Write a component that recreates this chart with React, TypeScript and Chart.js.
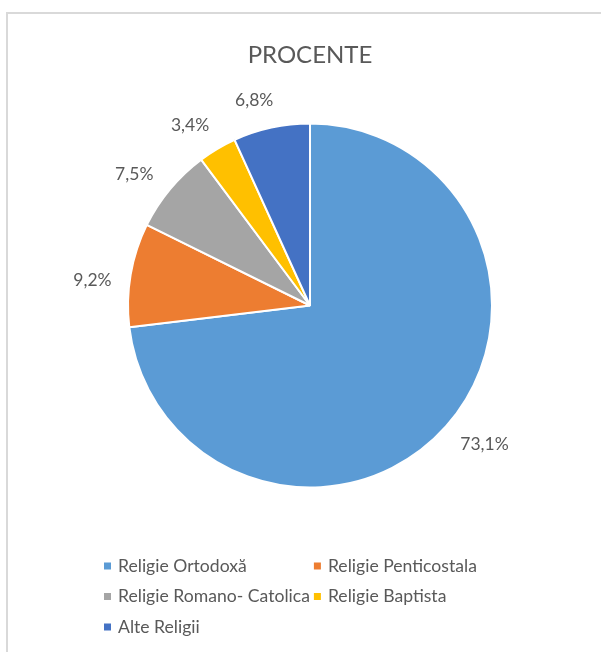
import React, { useEffect, useRef } from "react";
import { Chart, registerables } from "chart.js";

Chart.register(...registerables);

const chartTitle = "PROCENTE";
const categories = [
  "Religie Ortodoxă",
  "Religie Penticostala",
  "Religie Romano- Catolica",
  "Religie Baptista",
  "Alte Religii",
];
const values = [73.1, 9.2, 7.5, 3.4, 6.8];
const colors = ["#5B9BD5", "#ED7D31", "#A5A5A5", "#FFC000", "#4472C4"];

const TEXT_COLOR = "#595959";
const FONT = "Lato, 'Open Sans', sans-serif";

const formatPct = (v: number) => v.toFixed(1).replace(".", ",") + "%";

const overlayPlugin = {
  id: "overlay",
  afterDraw(chart: any) {
    const ctx = chart.ctx as CanvasRenderingContext2D;
    const area = chart.chartArea;
    const cxArea = (area.left + area.right) / 2;
    ctx.save();
    ctx.fillStyle = TEXT_COLOR;

    // title
    ctx.font = `24px ${FONT}`;
    ctx.textAlign = "center";
    ctx.textBaseline = "middle";
    ctx.fillText(chartTitle, cxArea, 55);

    // data labels (outside end)
    ctx.font = `17.5px ${FONT}`;
    const meta = chart.getDatasetMeta(0);
    meta.data.forEach((arc: any, i: number) => {
      const p = arc.getProps(["x", "y", "startAngle", "endAngle", "outerRadius"], true);
      const ang = (p.startAngle + p.endAngle) / 2 - (3 * Math.PI) / 180;
      const text = formatPct(values[i]);
      const w = ctx.measureText(text).width;
      const h = 17;
      const c = Math.cos(ang);
      const s = Math.sin(ang);
      const dist = p.outerRadius + 17 + (Math.abs(c) * w) / 2 + (Math.abs(s) * h) / 2;
      ctx.fillText(text, p.x + c * dist, p.y + s * dist);
    });

    // legend (grid of two columns)
    ctx.font = `17.6px ${FONT}`;
    ctx.textAlign = "left";
    const cols = 2;
    const startX = 104;
    const startY = 566;
    const rowH = 30.5;
    const box = 7;
    const gapText = 7;
    let colW = 0;
    categories.forEach((cat, i) => {
      if (i % cols === 0) colW = Math.max(colW, box + gapText + ctx.measureText(cat).width + 4);
    });
    categories.forEach((cat, i) => {
      const col = i % cols;
      const row = Math.floor(i / cols);
      const x = startX + col * colW;
      const y = startY + row * rowH;
      ctx.fillStyle = colors[i];
      ctx.fillRect(x, y - box / 2, box, box);
      ctx.fillStyle = TEXT_COLOR;
      ctx.fillText(cat, x + box + gapText, y);
    });
    ctx.restore();
  },
};

export default function App() {
  const canvasRef = useRef<HTMLCanvasElement | null>(null);

  useEffect(() => {
    const canvas = canvasRef.current;
    if (!canvas) return;
    const chart = new Chart(canvas, {
      type: "pie",
      data: {
        labels: categories,
        datasets: [
          {
            data: values,
            backgroundColor: colors,
            borderColor: "#ffffff",
            borderWidth: 2,
          },
        ],
      },
      options: {
        responsive: false,
        animation: false,
        radius: 182,
        layout: { padding: { left: 120, right: 101, top: 120, bottom: 161 } },
        plugins: {
          legend: { display: false },
          tooltip: { enabled: false },
          title: { display: false },
        },
      } as any,
      plugins: [overlayPlugin],
    });
    return () => chart.destroy();
  }, []);

  return (
    <div
      style={{
        position: "absolute",
        left: 0,
        top: 0,
        width: 601,
        height: 652,
        background: "#ffffff",
        overflow: "hidden",
      }}
    >
      <div
        style={{
          position: "absolute",
          left: 6,
          top: 12,
          width: 620,
          height: 660,
          borderLeft: "2px solid #d9d9d9",
          borderTop: "2px solid #d9d9d9",
        }}
      />
      <canvas
        ref={canvasRef}
        width={601}
        height={652}
        style={{ position: "absolute", left: 0, top: 0 }}
      />
    </div>
  );
}
